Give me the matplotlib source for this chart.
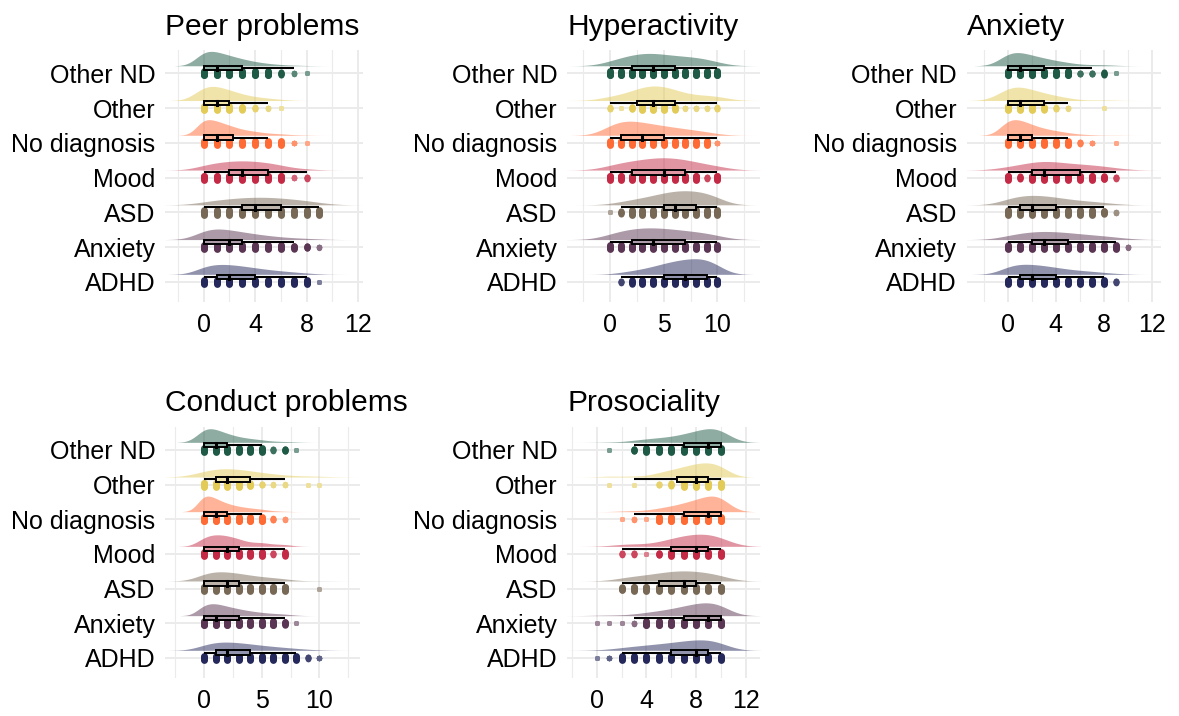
import numpy as np
import matplotlib
matplotlib.use("Agg")
import matplotlib.pyplot as plt
from matplotlib.patches import Rectangle
from matplotlib.colors import to_rgb

plt.rcParams['font.family'] = ['Liberation Sans', 'DejaVu Sans']

# groups, bottom (ADHD) to top (Other ND)
groups = ["ADHD", "Anxiety", "ASD", "Mood", "No diagnosis", "Other", "Other ND"]
group_colors = {
    "ADHD": "#24285a",
    "Anxiety": "#5b3654",
    "ASD": "#786856",
    "Mood": "#c42a45",
    "No diagnosis": "#ff6b35",
    "Other": "#e3cb57",
    "Other ND": "#1e5a46",
}
scores = np.arange(11)  # SDQ subscale scores 0..10

# estimated counts per score 0..10
peer_counts = {
    "Other ND":     [60, 50, 36, 24, 14, 8, 4, 2, 1, 0, 0],
    "Other":        [15, 12, 9, 5, 3, 2, 1, 0, 0, 0, 0],
    "No diagnosis": [70, 55, 38, 22, 15, 8, 6, 2, 1, 0, 0],
    "Mood":         [10, 13, 16, 17, 16, 13, 10, 2, 3, 0, 0],
    "ASD":          [8, 11, 14, 17, 18, 18, 16, 13, 10, 6, 0],
    "Anxiety":      [35, 36, 30, 23, 17, 12, 8, 5, 4, 2, 0],
    "ADHD":         [40, 45, 43, 36, 28, 20, 15, 10, 6, 1, 0],
}
hyper_counts = {
    "Other ND":     [8, 11, 16, 19, 19, 16, 14, 13, 13, 10, 6],
    "Other":        [3, 1, 4, 6, 7, 6, 5, 2, 2, 2, 3],
    "No diagnosis": [20, 24, 24, 20, 17, 15, 12, 10, 8, 6, 2],
    "Mood":         [6, 7, 9, 10, 12, 13, 12, 10, 9, 3, 7],
    "ASD":          [1, 4, 6, 8, 11, 14, 17, 17, 17, 14, 11],
    "Anxiety":      [8, 10, 13, 14, 14, 13, 12, 10, 9, 8, 6],
    "ADHD":         [0, 3, 5, 7, 11, 15, 19, 21, 23, 23, 15],
}
anx_counts = {
    "Other ND":     [45, 40, 29, 22, 14, 10, 3, 3, 4, 1, 0],
    "Other":        [12, 10, 7, 5, 3, 2, 0, 0, 1, 0, 0],
    "No diagnosis": [55, 48, 32, 20, 14, 8, 3, 2, 0, 1, 0],
    "Mood":         [6, 4, 11, 12, 11, 6, 8, 6, 5, 3, 0],
    "ASD":          [14, 18, 20, 18, 15, 11, 8, 7, 5, 2, 0],
    "Anxiety":      [10, 14, 17, 19, 17, 15, 12, 10, 8, 6, 2],
    "ADHD":         [30, 34, 32, 28, 22, 16, 12, 10, 6, 3, 0],
}
conduct_counts = {
    "Other ND":     [65, 50, 32, 20, 14, 10, 3, 4, 1, 0, 0],
    "Other":        [6, 7, 7, 6, 5, 3, 2, 2, 0, 1, 1],
    "No diagnosis": [80, 55, 33, 22, 15, 11, 3, 2, 0, 0, 0],
    "Mood":         [20, 24, 21, 15, 6, 9, 3, 5, 0, 0, 0],
    "ASD":          [20, 22, 20, 17, 12, 9, 7, 6, 0, 0, 1],
    "Anxiety":      [35, 35, 26, 19, 13, 9, 6, 5, 1, 0, 0],
    "ADHD":         [25, 34, 34, 30, 25, 19, 15, 11, 8, 3, 2],
}
prosoc_counts = {
    "Other ND":     [0, 1, 0, 4, 6, 8, 9, 14, 19, 26, 30],
    "Other":        [0, 1, 0, 1, 0, 3, 4, 6, 8, 9, 8],
    "No diagnosis": [0, 0, 1, 2, 1, 6, 8, 13, 18, 25, 30],
    "Mood":         [0, 0, 3, 3, 1, 4, 8, 11, 13, 13, 12],
    "ASD":          [0, 0, 5, 7, 8, 11, 14, 15, 14, 11, 10],
    "Anxiety":      [1, 1, 1, 2, 6, 8, 11, 16, 21, 24, 24],
    "ADHD":         [1, 2, 8, 10, 14, 16, 20, 24, 28, 30, 24],
}

# box stats: whisker low, q1, median, q3, whisker high
peer_box = {
    "Other ND": (0, 0, 1, 3, 7), "Other": (0, 0, 1, 2, 5),
    "No diagnosis": (0, 0, 1, 2.25, 5), "Mood": (0, 2, 3, 5, 8),
    "ASD": (0, 3, 4, 6, 9), "Anxiety": (0, 0, 2, 3, 7), "ADHD": (0, 1, 2, 4, 8),
}
hyper_box = {
    "Other ND": (0, 2, 4, 6, 10), "Other": (0, 2.5, 4, 6, 10),
    "No diagnosis": (0, 1, 3, 5, 10), "Mood": (0, 2, 5, 7, 10),
    "ASD": (1, 5, 6, 8, 10), "Anxiety": (0, 2, 4, 7, 10), "ADHD": (1, 5, 7, 9, 10),
}
anx_box = {
    "Other ND": (0, 0, 1, 3, 7), "Other": (0, 0, 1, 3, 5),
    "No diagnosis": (0, 0, 1, 2, 5), "Mood": (0, 2, 3, 6, 9),
    "ASD": (0, 1, 2, 4, 8), "Anxiety": (0, 2, 3, 5, 9), "ADHD": (0, 1, 2, 4, 8),
}
conduct_box = {
    "Other ND": (0, 0, 1, 2, 5), "Other": (0, 1, 2, 4, 7),
    "No diagnosis": (0, 0, 1, 2, 5), "Mood": (0, 0, 2, 3, 7),
    "ASD": (0, 0, 2, 3, 7), "Anxiety": (0, 0, 1, 3, 7), "ADHD": (0, 1, 2, 4, 8),
}
prosoc_box = {
    "Other ND": (3, 7, 9, 10, 10), "Other": (3, 6.5, 8, 9, 10),
    "No diagnosis": (3, 7, 9, 10, 10), "Mood": (2, 6, 8, 9, 10),
    "ASD": (2, 5, 7, 8, 10), "Anxiety": (3, 7, 9, 10, 10), "ADHD": (2, 6, 8, 9, 10),
}

panels = [
    # title, counts, box, xticks, xlim, axes rect (fig fraction)
    ("Peer problems", peer_counts, peer_box, [0, 4, 8, 12], (-3.0, 12.4), [0.140, 0.578, 0.168, 0.352]),
    ("Hyperactivity", hyper_counts, hyper_box, [0, 5, 10], (-4.0, 14.0), [0.481, 0.578, 0.164, 0.352]),
    ("Anxiety", anx_counts, anx_box, [0, 4, 8, 12], (-3.4, 12.8), [0.820, 0.578, 0.165, 0.352]),
    ("Conduct problems", conduct_counts, conduct_box, [0, 5, 10], (-3.4, 13.5), [0.140, 0.053, 0.165, 0.351]),
    ("Prosociality", prosoc_counts, prosoc_box, [0, 4, 8, 12], (-2.4, 13.2), [0.481, 0.053, 0.164, 0.351]),
]


def kde(counts, adjust=1.4):
    w = np.asarray(counts, float)
    data = np.repeat(scores, np.asarray(counts))
    n = len(data)
    sd = data.std(ddof=1)
    iqr = np.subtract(*np.percentile(data, [75, 25]))
    spread = min(sd, iqr / 1.34) if iqr > 0 else sd
    bw = adjust * 0.9 * spread * n ** -0.2
    xs = np.linspace(data.min() - 3 * bw, data.max() + 3 * bw, 300)
    dens = (w[None, :] * np.exp(-0.5 * ((xs[:, None] - scores[None, :]) / bw) ** 2)).sum(1)
    dens /= n * bw * np.sqrt(2 * np.pi)
    return xs, dens


def mix(c, a):
    r = np.array(to_rgb(c))
    return tuple(r * a + (1 - a))


fig = plt.figure(figsize=(11.79, 7.16), dpi=100)

for title, counts, box, xticks, xlim, rect in panels:
    ax = fig.add_axes(rect)
    ax.set_xlim(*xlim)
    ax.set_ylim(0.42, 7.67)

    clouds = {g: kde(counts[g]) for g in groups}
    dmax = max(d.max() for _, d in clouds.values())

    for k, g in enumerate(groups, start=1):
        col = group_colors[g]
        # cloud
        xs, d = clouds[g]
        base = k + 0.22
        ax.fill_between(xs, base, base + d / dmax * 0.45, color=col, alpha=0.5, lw=0, zorder=2)
        # rain
        for s, c in zip(scores, counts[g]):
            if c == 0:
                continue
            stack = min(1.0, (c - 1) / 5)
            shade = 0.6 + 0.4 * min(1.0, (c - 1) / 3)
            h = 0.06 * stack
            ys = k + np.linspace(-h, h, 6)
            size = (5.0 + 1.8 * stack) * 0.72
            ax.scatter(np.full(ys.shape, s), ys, s=size ** 2, color=mix(col, shade),
                       lw=0, zorder=4)
        # box
        lo, q1, med, q3, hi = box[g]
        yc = k + 0.15
        bh = 0.13
        ax.plot([lo, q1], [yc, yc], color="black", lw=1.5, zorder=5, solid_capstyle="butt")
        ax.plot([q3, hi], [yc, yc], color="black", lw=1.5, zorder=5, solid_capstyle="butt")
        ax.add_patch(Rectangle((q1, yc - bh / 2), q3 - q1, bh, facecolor=mix(col, 0.5),
                               edgecolor="black", lw=1.4, zorder=5))
        ax.plot([med, med], [yc - bh / 2, yc + bh / 2], color="black", lw=2.2, zorder=6)

    ax.set_yticks(range(1, len(groups) + 1))
    ax.set_yticklabels(groups)
    ax.set_xticks(xticks)
    step = xticks[1] - xticks[0]
    minors = np.arange(xticks[0] - step / 2, xlim[1], step)
    ax.set_xticks([m for m in minors if xlim[0] < m < xlim[1]], minor=True)
    ax.grid(True, which="major", color="#ebebeb", lw=1.4, zorder=0)
    ax.grid(True, which="minor", axis="x", color="#ebebeb", lw=0.8, zorder=0)
    ax.set_axisbelow(True)
    for sp in ax.spines.values():
        sp.set_visible(False)
    ax.tick_params(which="both", length=0, labelsize=18, labelcolor="black")
    ax.tick_params(axis="y", pad=7)
    ax.tick_params(axis="x", pad=8)
    ax.set_title(title, loc="left", fontsize=21.5, pad=11)

fig.savefig("out.png", dpi=100)
